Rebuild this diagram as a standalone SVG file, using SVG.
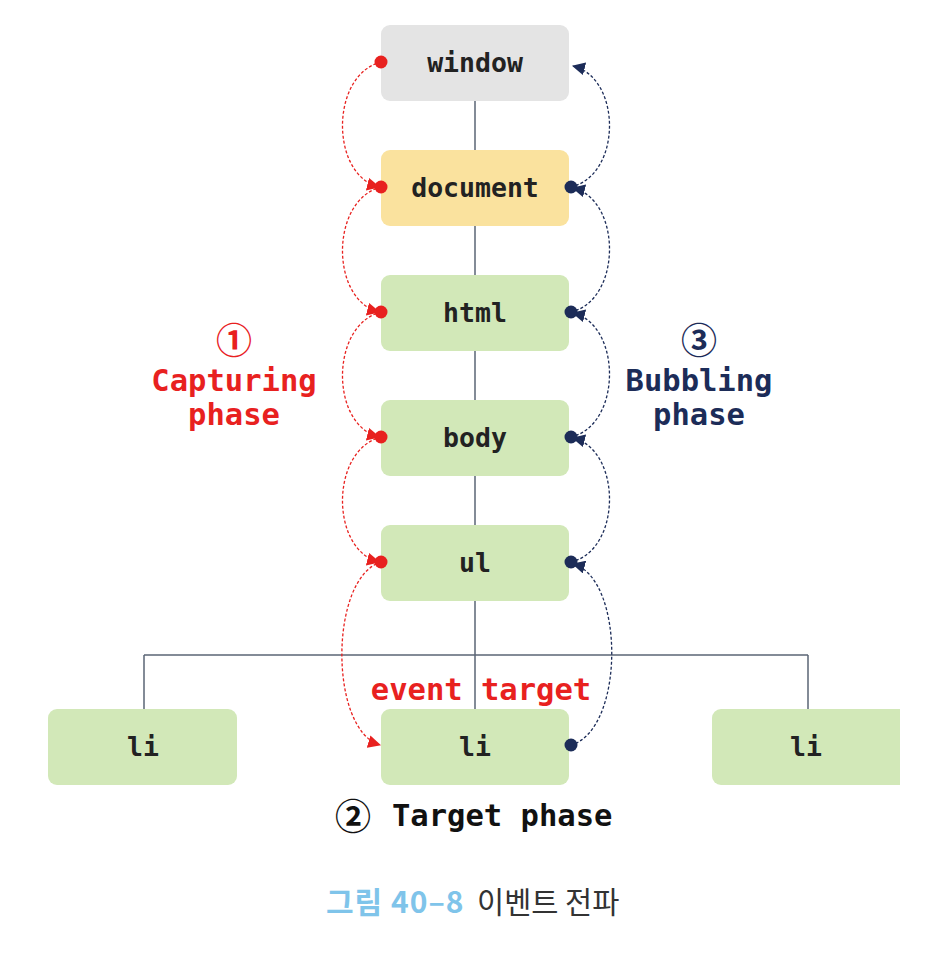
<svg xmlns="http://www.w3.org/2000/svg" width="948" height="963" viewBox="0 0 948 963">
<style>
.node text{font-family:"DejaVu Sans Mono","Liberation Mono",monospace;font-weight:bold;font-size:26.5px;fill:#222;text-anchor:middle}
.tree{stroke:#5b6575;stroke-width:1.5;fill:none}
.cap{stroke:#e8211f;stroke-width:1.3;stroke-dasharray:3 2;fill:none;marker-start:url(#dotR);marker-end:url(#arrR)}
.bub{stroke:#1c2c58;stroke-width:1.3;stroke-dasharray:3 2;fill:none;marker-start:url(#dotB);marker-end:url(#arrB)}
.lbl{font-family:"DejaVu Sans Mono","Liberation Mono",monospace;font-weight:bold;font-size:30.5px;text-anchor:middle}
.circ{font-family:"Noto Sans CJK KR","DejaVu Sans",sans-serif;font-weight:bold;font-size:36px;text-anchor:middle}
</style>
<defs>
<marker id="dotR" viewBox="0 0 14 14" refX="7" refY="7" markerWidth="14" markerHeight="14" markerUnits="userSpaceOnUse"><circle cx="7" cy="7" r="6.5" fill="#e8211f"/></marker>
<marker id="dotB" viewBox="0 0 14 14" refX="7" refY="7" markerWidth="14" markerHeight="14" markerUnits="userSpaceOnUse"><circle cx="7" cy="7" r="6.5" fill="#1c2c58"/></marker>
<marker id="arrR" viewBox="0 0 12 12" refX="11" refY="6" markerWidth="13" markerHeight="13" markerUnits="userSpaceOnUse" orient="auto"><path d="M0,0 L12,6 L0,12 z" fill="#e8211f"/></marker>
<marker id="arrB" viewBox="0 0 12 12" refX="11" refY="6" markerWidth="13" markerHeight="13" markerUnits="userSpaceOnUse" orient="auto"><path d="M0,0 L12,6 L0,12 z" fill="#1c2c58"/></marker>
</defs>
<rect width="948" height="963" fill="#fff"/>
<g id="tree-lines">
<path class="tree" d="M475,101 V709 M144,655 H808 M144,655 V709 M808,655 V709"/>
</g>
<g id="node-window" class="node"><rect x="381" y="25" width="188" height="76" rx="9" fill="#e4e4e4"/><text x="475" y="72">window</text></g>
<g id="node-document" class="node"><rect x="381" y="150" width="188" height="76" rx="9" fill="#fae29e"/><text x="475" y="197">document</text></g>
<g id="node-html" class="node"><rect x="381" y="275" width="188" height="76" rx="9" fill="#d2e8b8"/><text x="475" y="322">html</text></g>
<g id="node-body" class="node"><rect x="381" y="400" width="188" height="76" rx="9" fill="#d2e8b8"/><text x="475" y="447">body</text></g>
<g id="node-ul" class="node"><rect x="381" y="525" width="188" height="76" rx="9" fill="#d2e8b8"/><text x="475" y="572">ul</text></g>
<g id="node-li-left" class="node"><rect x="48" y="709" width="189" height="76" rx="9" fill="#d2e8b8"/><text x="143" y="756">li</text></g>
<g id="node-li-target" class="node"><rect x="381" y="709" width="188" height="76" rx="9" fill="#d2e8b8"/><text x="475" y="756">li</text></g>
<g id="node-li-right" class="node"><path d="M721,709 H900 V785 H721 A9,9 0 0 1 712,776 V718 A9,9 0 0 1 721,709 Z" fill="#d2e8b8"/><text x="806" y="756">li</text></g>
<g id="connectors">
<path class="cap" d="M381,62 C330,75 330,175 379,187"/>
<path class="cap" d="M381,187 C330,200 330,300 379,312"/>
<path class="cap" d="M381,312 C330,325 330,425 379,437"/>
<path class="cap" d="M381,437 C330,450 330,550 379,562"/>
<path class="cap" d="M381,562 C329,578 329,730 380,745"/>
<path class="bub" d="M571,745 C625,730 625,578 573,564"/>
<path class="bub" d="M571,562 C622,550 622,450 573,438"/>
<path class="bub" d="M571,437 C622,425 622,325 573,313"/>
<path class="bub" d="M571,312 C622,300 622,200 573,188"/>
<path class="bub" d="M571,187 C622,175 622,78 573,66"/>
</g>
<g id="labels">
<text class="circ" x="234" y="354" fill="#e8211f">①</text>
<text class="lbl" x="234" y="391" fill="#e8211f">Capturing</text>
<text class="lbl" x="234" y="425" fill="#e8211f">phase</text>
<text class="circ" x="699" y="354" fill="#1c2c58">③</text>
<text class="lbl" x="699" y="391" fill="#1c2c58">Bubbling</text>
<text class="lbl" x="699" y="425" fill="#1c2c58">phase</text>
<text class="lbl" x="481" y="700" fill="#e8211f">event target</text>
<text class="circ" x="353" y="830" fill="#111">②</text>
<text class="lbl" x="392" y="826" fill="#111" style="text-anchor:start">Target phase</text>
</g>
<g id="caption">
<text x="326" y="913" font-family="Noto Sans CJK KR, sans-serif" font-size="30" font-weight="bold" letter-spacing="1" fill="#7fc4ea">그림 40–8</text>
<text x="477" y="913" font-family="Noto Sans CJK KR, sans-serif" font-size="29.5" fill="#333">이벤트 전파</text>
</g>
</svg>
